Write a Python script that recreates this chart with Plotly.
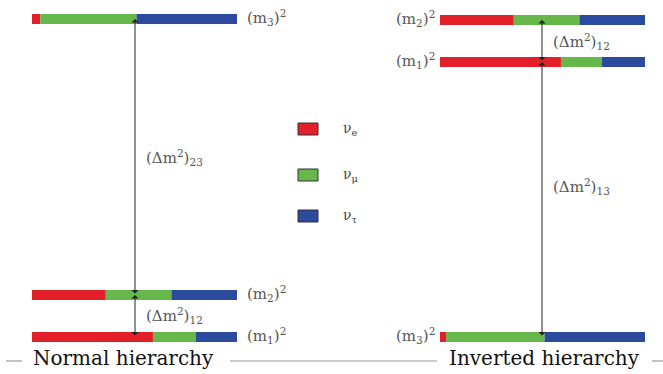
import plotly.graph_objects as go

# ---------------- data ----------------
flavors = ["ν<sub>e</sub>", "ν<sub>μ</sub>", "ν<sub>τ</sub>"]
flavor_colors = ["#e3202a", "#66b84a", "#2d4b9e"]

# mass states, listed as m1, m2, m3
state_labels = ["(m<sub>1</sub>)<sup>2</sup>", "(m<sub>2</sub>)<sup>2</sup>", "(m<sub>3</sub>)<sup>2</sup>"]
normal_level = [37, 79, 355]      # mass-squared level (arbitrary units)
inverted_level = [312, 354, 37]

# flavour content of each mass state (fractions)  [m1, m2, m3]
normal_mix = {
    "e":   [0.59, 0.36, 0.04],
    "mu":  [0.21, 0.32, 0.47],
    "tau": [0.20, 0.32, 0.49],
}
inverted_mix = {
    "e":   [0.59, 0.36, 0.03],
    "mu":  [0.20, 0.32, 0.48],
    "tau": [0.21, 0.32, 0.49],
}
flavor_keys = ["e", "mu", "tau"]

# ---------------- layout constants ----------------
W, H = 663, 374
L_X0, R_X0, BAR_LEN = 32, 440, 205
BAR_THICK = 10
L_ARROW_X, R_ARROW_X = 135, 542
label_font = dict(family="DejaVu Serif", size=15, color="#555555")

fig = go.Figure()

cum_n = [0.0, 0.0, 0.0]
cum_i = [0.0, 0.0, 0.0]
for k, key in enumerate(flavor_keys):
    n = normal_mix[key]
    iv = inverted_mix[key]
    ys = normal_level + inverted_level
    xs = [f * BAR_LEN for f in n] + [f * BAR_LEN for f in iv]
    bases = [L_X0 + c * BAR_LEN for c in cum_n] + [R_X0 + c * BAR_LEN for c in cum_i]
    fig.add_trace(go.Bar(
        orientation="h", y=ys, x=xs, base=bases, width=BAR_THICK,
        marker=dict(color=flavor_colors[k], line=dict(width=0)),
        showlegend=False, hoverinfo="skip",
    ))
    cum_n = [c + f for c, f in zip(cum_n, n)]
    cum_i = [c + f for c, f in zip(cum_i, iv)]

annotations = []
shapes = []

# mass state labels
for lab, y in zip(state_labels, normal_level):
    annotations.append(dict(x=L_X0 + BAR_LEN + 8, y=y + 2, text=lab, showarrow=False,
                            xanchor="left", yanchor="middle", font=label_font))
for lab, y in zip(state_labels, inverted_level):
    annotations.append(dict(x=R_X0 - 3, y=y + 2, text=lab, showarrow=False,
                            xanchor="right", yanchor="middle", font=label_font))

# splitting arrows
def arrow(x, y0, y1):
    annotations.append(dict(x=x, y=y1, ax=x, ay=y0, xref="x", yref="y", axref="x", ayref="y",
                            text="", showarrow=True, arrowhead=1, arrowside="end+start",
                            arrowsize=1.2, arrowwidth=1, arrowcolor="#222222",
                            standoff=0, startstandoff=0))

arrow(L_ARROW_X, normal_level[1], normal_level[2])
arrow(L_ARROW_X, normal_level[0], normal_level[1])
arrow(R_ARROW_X, inverted_level[0], inverted_level[1])
arrow(R_ARROW_X, inverted_level[2], inverted_level[0])

dm_font = dict(family="DejaVu Serif", size=15, color="#555555")
annotations += [
    dict(x=L_ARROW_X + 9, y=(normal_level[1] + normal_level[2]) / 2, text="(Δm<sup>2</sup>)<sub>23</sub>",
         showarrow=False, xanchor="left", yanchor="middle", font=dm_font),
    dict(x=L_ARROW_X + 9, y=(normal_level[0] + normal_level[1]) / 2 + 1, text="(Δm<sup>2</sup>)<sub>12</sub>",
         showarrow=False, xanchor="left", yanchor="middle", font=dm_font),
    dict(x=R_ARROW_X + 9, y=(inverted_level[0] + inverted_level[1]) / 2, text="(Δm<sup>2</sup>)<sub>12</sub>",
         showarrow=False, xanchor="left", yanchor="middle", font=dm_font),
    dict(x=R_ARROW_X + 9, y=(inverted_level[0] + inverted_level[2]) / 2 + 13, text="(Δm<sup>2</sup>)<sub>13</sub>",
         showarrow=False, xanchor="left", yanchor="middle", font=dm_font),
]

# flavour key
key_y = [245, 199, 158]
for name, col, y in zip(flavors, flavor_colors, key_y):
    shapes.append(dict(type="rect", xref="x", yref="y", x0=298, x1=318, y0=y - 6, y1=y + 6,
                       fillcolor=col, line=dict(color="#333333", width=1)))
    annotations.append(dict(x=341, y=y, text=name, showarrow=False, xanchor="left",
                            yanchor="middle", font=dict(family="DejaVu Serif", size=14, color="#444444")))

# bottom rule with captions
rule_y = 13
for x0, x1 in [(6, 22), (230, 437), (652, 663)]:
    shapes.append(dict(type="line", xref="x", yref="y", x0=x0, x1=x1, y0=rule_y, y1=rule_y,
                       line=dict(color="#999999", width=1.2)))
annotations += [
    dict(x=123, y=16, text="Normal hierarchy", showarrow=False, xanchor="center", yanchor="middle",
         font=dict(family="DejaVu Serif", size=20, color="#111111")),
    dict(x=544, y=16, text="Inverted hierarchy", showarrow=False, xanchor="center", yanchor="middle",
         font=dict(family="DejaVu Serif", size=20, color="#111111")),
]

fig.update_layout(
    width=W, height=H, margin=dict(l=0, r=0, t=0, b=0),
    paper_bgcolor="white", plot_bgcolor="white",
    barmode="overlay",
    xaxis=dict(range=[0, W], visible=False, fixedrange=True),
    yaxis=dict(range=[0, H], visible=False, fixedrange=True),
    annotations=annotations, shapes=shapes,
)

fig.write_html("out.html", config={"displayModeBar": False})
